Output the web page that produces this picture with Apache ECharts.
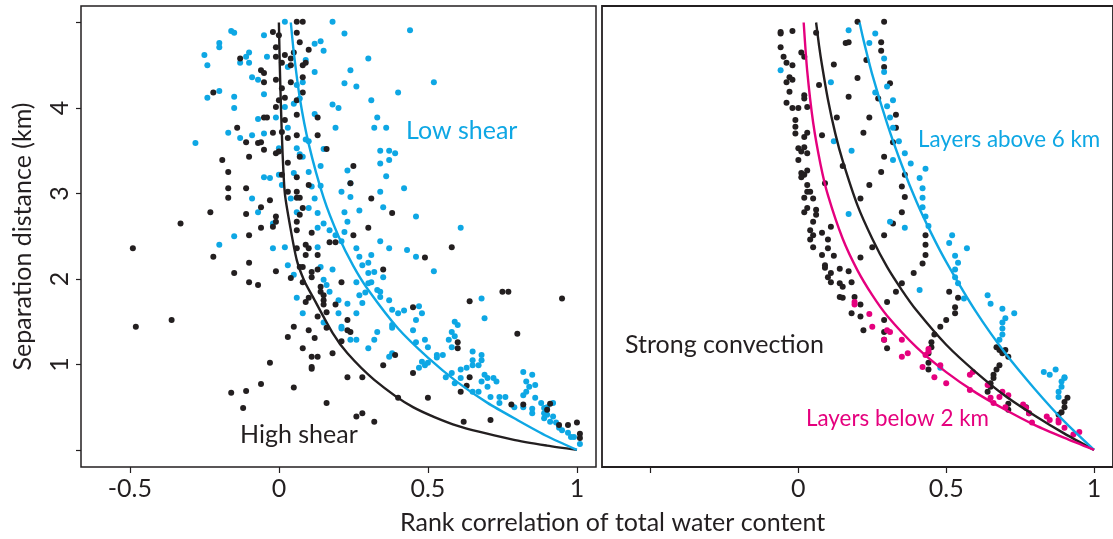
<!DOCTYPE html>
<html>
<head>
<meta charset="utf-8">
<script src="https://cdn.jsdelivr.net/npm/echarts@6/dist/echarts.min.js"></script>
<style>
html,body{margin:0;padding:0;background:#fff;}
#chart{width:1113px;height:539px;}
</style>
</head>
<body>
<div id="chart"></div>
<script>
// ---------- DATA (correlation r, separation distance km) ----------
const xTickValues = [-0.5, 0, 0.5, 1];
const xLabelValuesLeft = [-0.5, 0, 0.5, 1];
const xLabelValuesRight = [0, 0.5, 1];
const yTickValues = [0, 1, 2, 3, 4, 5];
const yLabelValues = [1, 2, 3, 4];

const annotations = ["Low shear", "High shear", "Strong convection", "Layers above 6 km", "Layers below 2 km"];
const xTitle = "Rank correlation of total water content";
const yTitle = "Separation distance (km)";

const leftBlackPts = [
[0.08,5.01],[0.06,5.01],[-0.02,4.89],[0.00,4.85],[0.06,4.88],[0.07,4.77],[-0.01,4.71],[0.05,4.65],[0.10,4.68],[-0.13,4.58],
[-0.01,4.60],[0.02,4.62],[0.04,4.58],[0.08,4.50],[0.09,4.53],[0.01,4.53],[0.04,4.50],[-0.06,4.44],[-0.05,4.41],[0.08,4.36],
[-0.05,4.30],[-0.01,4.33],[0.04,4.30],[0.01,4.23],[0.08,4.18],[-0.22,4.18],[0.00,4.09],[0.02,4.12],[0.06,4.09],[-0.01,4.01],
[0.06,3.92],[0.13,3.89],[-0.05,3.89],[-0.04,3.89],[0.02,3.86],[-0.14,3.77],[-0.02,3.71],[0.01,3.72],[0.06,3.68],[0.13,3.68],
[-0.11,3.60],[-0.07,3.59],[-0.06,3.60],[0.03,3.65],[-0.05,3.51],[-0.01,3.47],[0.00,3.49],[0.07,3.43],[-0.10,3.43],[-0.19,3.39],
[0.03,3.36],[0.01,3.22],[-0.17,3.25],[0.06,3.19],[0.10,3.10],[0.03,3.02],[0.06,3.02],[-0.17,3.06],[-0.11,3.06],[0.06,2.95],
[0.07,2.95],[-0.03,2.92],[-0.17,2.95],[0.08,2.83],[-0.06,2.84],[-0.23,2.78],[-0.01,2.73],[0.07,2.75],[-0.11,2.76],[-0.01,2.67],
[-0.02,2.61],[0.06,2.67],[-0.33,2.65],[0.25,3.32],[0.24,3.12],[0.31,2.94],[0.38,2.77],[0.30,2.60],[0.25,2.51],[0.58,2.37],
[0.16,3.52],[-0.49,2.36],[-0.10,2.51],[-0.06,2.60],[0.06,2.57],[0.11,2.54],[0.17,2.43],[0.19,2.43],[-0.22,2.26],[-0.10,2.19],
[-0.15,2.07],[-0.10,1.96],[-0.07,1.93],[-0.01,2.09],[0.04,2.01],[0.06,2.36],[0.09,2.40],[0.10,2.36],[0.09,2.28],[0.13,2.28],
[0.07,2.14],[0.08,2.14],[0.11,2.08],[0.13,2.11],[0.11,2.02],[0.08,1.96],[0.14,1.91],[0.14,1.85],[0.15,1.81],[0.09,1.73],
[0.10,1.78],[0.15,1.75],[0.16,1.61],[0.15,1.70],[0.19,1.70],[0.21,1.96],[0.13,1.56],[0.05,1.44],[0.10,1.40],[0.16,1.43],
[0.23,1.52],[0.23,1.40],[0.03,1.32],[0.12,1.31],[0.21,1.27],[0.08,1.19],[0.11,1.09],[0.13,1.09],[0.11,0.97],[0.11,0.95],
[0.18,1.13],[-0.03,1.02],[-0.06,0.77],[-0.11,0.69],[-0.16,0.67],[-0.12,0.49],[0.05,0.73],[0.16,0.55],[0.23,0.85],[-0.48,1.44],
[-0.36,1.52],[0.35,2.11],[0.49,2.25],[0.35,0.99],[0.28,0.85],[0.26,0.39],[0.28,0.43],[0.32,0.33],[0.40,0.61],[0.39,1.11],
[0.45,1.67],[0.45,0.90],[0.50,0.61],[0.60,1.26],[0.60,1.19],[0.64,1.74],[0.64,0.85],[0.63,0.75],[0.61,0.68],[0.62,0.33],
[0.75,1.85],[0.77,1.85],[0.80,1.36],[0.71,0.35],[0.78,0.53],[0.82,0.53],[0.95,1.77],[0.91,0.54],[0.94,0.29],[0.97,0.29],
[1.00,0.32],[1.01,0.19],[1.01,0.14],[0.90,0.47],[0.24,1.38]
];

const leftCyanPts = [
[-0.16,4.90],[-0.15,4.88],[-0.05,4.85],[-0.20,4.76],[-0.20,4.71],[-0.25,4.62],[-0.24,4.50],[-0.10,4.65],[-0.11,4.60],[-0.10,4.53],
[-0.13,4.53],[-0.04,4.60],[-0.09,4.36],[-0.07,4.33],[-0.20,4.20],[-0.24,4.12],[-0.15,4.13],[-0.05,4.16],[-0.15,4.00],[-0.07,3.87],
[-0.01,3.89],[-0.17,3.71],[-0.13,3.65],[-0.09,3.68],[-0.05,3.70],[-0.28,3.59],[0.00,3.53],[0.06,3.53],[-0.05,3.19],[-0.03,3.18],
[0.00,3.22],[-0.09,2.94],[-0.07,2.78],[-0.02,2.65],[-0.15,2.50],[-0.20,2.40],[-0.02,2.36],[0.02,2.37],
[0.02,5.01],[0.18,5.01],[0.44,4.91],[0.22,4.87],[0.12,4.75],[0.14,4.78],[0.15,4.67],[0.09,4.56],[0.03,4.48],[0.12,4.42],
[0.24,4.44],[0.30,4.58],[0.22,4.29],[0.26,4.25],[0.52,4.30],[0.06,4.27],[0.08,4.30],[0.40,4.18],[0.31,4.09],[0.07,4.11],
[0.18,4.04],[0.20,4.00],[0.05,4.05],[0.02,4.01],[0.12,3.93],[0.33,3.89],[0.32,3.77],[0.36,3.77],[0.19,3.77],[0.03,3.77],
[0.09,3.63],[0.10,3.61],[0.15,3.52],[0.34,3.50],[0.37,3.50],[0.39,3.47],[0.37,3.39],[0.34,3.35],[0.07,3.46],[0.08,3.43],
[0.14,3.32],[0.23,3.27],[0.24,3.12],[0.36,3.20],[0.42,3.06],[0.10,3.25],[0.05,3.24],[0.11,3.08],[0.14,3.09],[0.01,3.10],
[0.21,3.02],[0.34,3.02],[0.04,2.94],[0.12,2.94],[0.24,2.96],[0.10,2.83],[0.06,2.78],[0.13,2.77],[0.22,2.78],[0.27,2.80],
[0.35,2.84],[0.46,2.73],[0.23,2.67],[0.15,2.65],[0.13,2.60],[0.17,2.57],[0.22,2.55],[0.19,2.51],[0.61,2.60],[0.34,2.44],
[0.37,2.36],[0.26,2.36],[0.21,2.44],[0.13,2.37],
[0.03,2.16],[0.05,2.05],[0.06,1.78],[0.08,1.60],[0.15,1.99],[0.14,2.14],[0.18,2.11],[0.16,1.93],[0.17,1.85],[0.20,1.75],
[0.20,1.60],[0.15,1.49],[0.21,1.44],[0.21,1.42],[0.23,1.71],[0.26,1.29],[0.24,1.29],[0.26,1.60],[0.27,1.81],[0.28,1.72],
[0.29,1.84],[0.30,1.19],[0.32,1.29],[0.33,1.38],[0.26,1.96],[0.30,1.95],[0.31,1.96],[0.30,2.07],[0.32,2.08],[0.30,2.19],
[0.28,2.16],[0.27,2.26],[0.31,2.28],[0.33,1.87],[0.34,1.85],[0.34,1.79],[0.35,2.02],[0.37,1.75],[0.38,1.64],[0.40,1.60],
[0.42,1.63],[0.43,2.34],[0.46,2.26],[0.52,2.09],[0.38,1.13],[0.37,1.09],[0.38,1.46],[0.38,1.43],[0.46,1.52],[0.47,1.68],
[0.48,1.60],[0.45,1.40],[0.46,1.26],[0.48,1.03],[0.47,0.96],[0.49,0.99],[0.49,1.29],[0.50,1.20],[0.53,1.11],[0.55,1.11],
[0.50,1.02],[0.53,1.08],[0.56,0.85],[0.57,1.29],[0.59,1.50],[0.60,1.46],[0.58,1.38],[0.59,1.33],[0.58,1.20],[0.58,0.90],
[0.59,0.78],[0.61,0.84],[0.61,0.94],[0.63,0.96],[0.65,1.15],[0.65,1.05],[0.65,0.99],[0.68,1.77],[0.69,1.54],[0.68,1.11],
[0.68,1.05],[0.67,0.99],[0.69,0.88],[0.70,0.84],[0.68,0.80],[0.70,0.74],[0.67,0.68],[0.65,0.68],[0.71,0.62],[0.72,0.84],
[0.73,0.80],[0.74,0.62],[0.74,0.55],[0.76,0.62],[0.79,0.50],[0.82,0.91],[0.85,0.88],[0.83,0.80],[0.84,0.74],[0.83,0.68],
[0.82,0.64],[0.86,0.76],[0.86,0.61],[0.82,0.50],[0.85,0.43],[0.88,0.55],[0.89,0.49],[0.90,0.50],[0.89,0.43],[0.92,0.55],
[0.90,0.41],[0.89,0.37],[0.91,0.33],[0.93,0.32],[0.92,0.39],[0.94,0.26],[0.95,0.23],[0.97,0.20],[0.98,0.15],[0.99,0.15],
[1.01,0.07],[0.85,0.48]
];

const rightBlackPts = [
[-0.06,4.89],[-0.06,4.87],[-0.02,4.90],[-0.06,4.71],[0.01,4.65],[0.02,4.60],[-0.05,4.60],[-0.04,4.53],[-0.02,4.50],[-0.03,4.36],
[-0.04,4.30],[-0.02,4.33],[-0.03,4.19],[0.02,4.15],[0.02,4.11],[-0.04,4.06],[-0.02,4.00],[0.00,4.00],[0.03,4.01],[-0.01,3.86],
[-0.01,3.78],[-0.01,3.70],[0.02,3.66],[0.03,3.71],[0.00,3.53],[0.01,3.49],[0.03,3.47],[0.02,3.54],[0.00,3.39],[0.01,3.24],
[0.02,3.22],[0.03,3.27],[0.01,3.19],[0.03,3.10],[0.03,3.02],[0.04,3.02],[0.02,2.95],[0.05,2.94],[0.03,2.83],[0.02,2.78],
[0.06,2.81],[0.06,2.75],[0.05,2.67],[0.04,2.57],[0.05,2.51],[0.04,2.46],[0.05,2.37],[0.10,2.46],[0.10,2.36],[0.08,2.54],
[0.11,2.61],[0.09,3.12],[0.08,3.68],[0.13,3.89],[0.07,4.27],[0.12,4.51],[0.16,4.76],[0.06,4.88],[0.17,4.13],[0.15,3.32],
[0.08,2.28],[0.12,2.27],[0.09,2.16],[0.09,2.13],[0.11,2.07],[0.10,2.02],[0.11,1.96],[0.14,2.12],[0.14,1.95],[0.15,1.91],
[0.17,2.09],[0.18,1.96],[0.14,1.79],[0.15,1.78],[0.19,1.79],[0.21,1.70],[0.18,1.60],[0.21,1.56],[0.22,1.40],[0.21,2.25],
[0.21,2.94],[0.24,3.10],[0.28,3.25],[0.29,3.43],[0.29,2.51],[0.25,2.37],[0.36,2.96],[0.35,2.78],[0.36,3.22],[0.35,3.08],
[0.32,2.65],[0.43,2.51],[0.43,2.40],[0.43,2.28],[0.42,2.18],[0.39,2.07],[0.35,1.95],[0.33,1.85],[0.30,1.73],[0.29,1.52],
[0.29,1.38],[0.29,1.29],[0.30,1.19],[0.48,1.44],[0.50,1.52],[0.46,1.35],[0.45,1.26],[0.44,1.13],[0.44,1.02],[0.44,0.94],
[0.45,1.20],[0.20,5.01],[0.29,5.01],[0.28,4.77],[0.28,4.67],[0.23,4.56],[0.29,4.48],[0.31,4.29],[0.20,4.35],[0.27,4.11],
[0.33,3.92],[0.24,3.89],[0.33,3.77],[0.22,3.71],[0.32,3.60],[0.17,4.77],
[0.53,1.60],[0.53,1.67],[0.54,1.78],[0.51,1.85],[0.67,1.20],[0.68,1.17],[0.69,1.13],[0.70,1.17],[0.71,1.09],[0.68,0.99],
[0.67,0.94],[0.66,0.88],[0.66,0.84],[0.65,0.78],[0.65,0.74],[0.64,0.68],[0.71,0.54],[0.71,0.47],[0.77,0.50],[0.78,0.43],
[0.90,0.56],[0.90,0.50],[0.89,0.44],[0.88,0.41],[0.91,0.61]
];

const rightCyanPts = [
[0.17,4.91],[-0.06,4.44],[0.11,4.30],[0.12,3.61],[0.18,3.50],[0.17,2.76],[0.26,4.87],[0.24,4.76],[0.29,4.58],[0.29,4.42],
[0.30,4.25],[0.26,4.18],[0.32,4.09],[0.30,4.02],[0.31,3.89],[0.32,3.77],[0.34,3.61],[0.36,3.47],[0.32,3.39],[0.38,3.35],
[0.43,3.29],[0.41,3.18],[0.42,3.06],[0.42,2.95],[0.42,2.84],[0.43,2.73],[0.44,2.62],[0.31,2.67],[0.36,2.60],[0.52,2.51],
[0.51,2.42],[0.57,2.36],[0.41,1.87],[0.53,2.27],[0.54,2.19],[0.53,2.11],[0.53,2.02],[0.54,1.95],[0.56,1.77],[0.64,1.81],
[0.65,1.71],[0.69,1.65],[0.73,1.60],[0.70,1.54],[0.69,1.49],[0.69,1.42],[0.69,1.35],[0.68,1.29],[0.83,0.91],[0.85,0.88],
[0.87,0.94],[0.90,0.85],[0.89,0.80],[0.89,0.74],[0.88,0.68],[0.88,0.62],[0.90,0.84],[0.48,0.96]
];

const rightMagentaPts = [
[0.19,1.73],[0.19,1.70],[0.24,1.59],[0.25,1.44],[0.29,1.29],[0.30,1.40],[0.31,1.38],[0.35,1.29],[0.35,1.09],[0.37,1.13],
[0.43,1.11],[0.44,1.15],[0.44,1.18],[0.42,0.97],[0.46,0.85],[0.48,0.99],[0.50,0.78],[0.58,0.88],[0.59,0.91],[0.58,0.70],
[0.64,0.76],[0.65,0.61],[0.66,0.55],[0.68,0.62],[0.69,0.68],[0.70,0.50],[0.71,0.64],[0.76,0.53],[0.77,0.49],[0.78,0.43],
[0.79,0.32],[0.84,0.39],[0.85,0.35],[0.88,0.35],[0.88,0.32],[0.90,0.26],[0.93,0.18],[0.95,0.21]
];

// fitted curves
const leftBlackCurve = [[0,5.0],[0.003,4.5],[0.007,4.0],[0.012,3.5],[0.02,3.0],[0.037,2.63],[0.06,2.22],[0.085,1.98],[0.114,1.79],[0.18,1.37],[0.23,1.13],[0.32,0.82],[0.45,0.5],[0.6,0.28],[0.785,0.12],[0.9,0.05],[1,0]];
const leftCyanCurve = [[0.04,5.0],[0.05,4.65],[0.07,4.12],[0.1,3.58],[0.15,2.95],[0.2,2.50],[0.25,2.15],[0.3,1.87],[0.4,1.42],[0.5,1.08],[0.6,0.79],[0.7,0.55],[0.8,0.35],[0.9,0.16],[1,0]];
const rightBlackCurve = [[0.06,5.0],[0.07,4.73],[0.08,4.50],[0.1,4.10],[0.125,3.70],[0.15,3.38],[0.2,2.86],[0.25,2.47],[0.3,2.14],[0.35,1.87],[0.4,1.63],[0.5,1.23],[0.6,0.91],[0.7,0.63],[0.8,0.40],[0.9,0.19],[1,0]];
const rightCyanCurve = [[0.207,5.0],[0.22,4.80],[0.25,4.39],[0.3,3.82],[0.35,3.33],[0.4,2.90],[0.45,2.53],[0.5,2.20],[0.6,1.62],[0.7,1.13],[0.8,0.71],[0.9,0.33],[1,0]];
const rightMagentaCurve = [[0.018,5.0],[0.03,4.43],[0.05,3.83],[0.075,3.34],[0.1,2.98],[0.15,2.47],[0.2,2.10],[0.25,1.81],[0.3,1.57],[0.4,1.20],[0.5,0.91],[0.6,0.67],[0.7,0.47],[0.8,0.29],[0.9,0.14],[1,0]];

// ---------- STYLE ----------
const BLACK = '#231f20', CYAN = '#0ea7e4', MAGENTA = '#e5007e';
const FONT = 'Lato';

const chart = echarts.init(document.getElementById('chart'), null, {renderer: 'canvas'});

function xAxisFor(gridIndex, labels) {
  return {
    type: 'value', gridIndex: gridIndex, min: -0.664, max: 1.064,
    splitLine: {show: false},
    axisLine: {show: false, onZero: false},
    axisTick: {show: true, length: 6, inside: false, customValues: xTickValues, lineStyle: {color: BLACK, width: 1.2}},
    axisLabel: {show: true, customValues: labels, margin: 9, color: BLACK, fontSize: 25, fontFamily: FONT,
      formatter: v => String(v)}
  };
}
function yAxisFor(gridIndex, withLabels) {
  return {
    type: 'value', gridIndex: gridIndex, min: -0.2, max: 5.193,
    splitLine: {show: false},
    axisLine: {show: false, onZero: false},
    axisTick: {show: withLabels, length: 5, customValues: yTickValues, lineStyle: {color: BLACK, width: 1.2}},
    axisLabel: {show: withLabels, customValues: yLabelValues, rotate: 90, margin: 9, color: BLACK, fontSize: 25, fontFamily: FONT,
      formatter: v => String(v)},
    name: withLabels ? yTitle : '', nameLocation: 'middle', nameGap: 46,
    nameTextStyle: {color: BLACK, fontSize: 25, fontFamily: FONT}
  };
}
function scatter(data, color, gi) {
  return {type: 'scatter', xAxisIndex: gi, yAxisIndex: gi, data: data, symbolSize: 6,
    itemStyle: {color: color, opacity: 1}, silent: true, animation: false};
}
function curve(data, color, gi) {
  return {type: 'line', xAxisIndex: gi, yAxisIndex: gi, data: data, smooth: 0.25, showSymbol: false,
    lineStyle: {color: color, width: 2.4}, silent: true, animation: false, z: 5};
}

chart.setOption({
  backgroundColor: '#fff',
  animation: false,
  grid: [
    {left: 81, top: 6, width: 515, height: 461, show: true, borderColor: BLACK, borderWidth: 1.5, backgroundColor: 'transparent'},
    {left: 602, top: 6, width: 520, height: 461, show: true, borderColor: BLACK, borderWidth: 1.8, backgroundColor: 'transparent'}
  ],
  xAxis: [xAxisFor(0, xLabelValuesLeft), xAxisFor(1, xLabelValuesRight)],
  yAxis: [yAxisFor(0, true), yAxisFor(1, false)],
  series: [
    scatter(leftCyanPts, CYAN, 0),
    scatter(leftBlackPts, BLACK, 0),
    curve(leftBlackCurve, BLACK, 0),
    curve(leftCyanCurve, CYAN, 0),
    scatter(rightBlackPts, BLACK, 1),
    scatter(rightCyanPts, CYAN, 1),
    scatter(rightMagentaPts, MAGENTA, 1),
    curve(rightBlackCurve, BLACK, 1),
    curve(rightCyanCurve, CYAN, 1),
    curve(rightMagentaCurve, MAGENTA, 1)
  ],
  graphic: [
    {type: 'text', left: 400, top: 510, silent: true, style: {text: xTitle, fill: BLACK, font: '25px ' + FONT}},
    {type: 'text', left: 406, top: 118, silent: true, style: {text: annotations[0], fill: CYAN, font: '25px ' + FONT}},
    {type: 'text', left: 240, top: 422, silent: true, style: {text: annotations[1], fill: BLACK, font: '25px ' + FONT}},
    {type: 'text', left: 625, top: 332, silent: true, style: {text: annotations[2], fill: BLACK, font: '25px ' + FONT}},
    {type: 'text', left: 918, top: 129, silent: true, style: {text: annotations[3], fill: CYAN, font: '22.4px ' + FONT}},
    {type: 'text', left: 806, top: 408, silent: true, style: {text: annotations[4], fill: MAGENTA, font: '22.4px ' + FONT}}
  ]
});
</script>
</body>
</html>
